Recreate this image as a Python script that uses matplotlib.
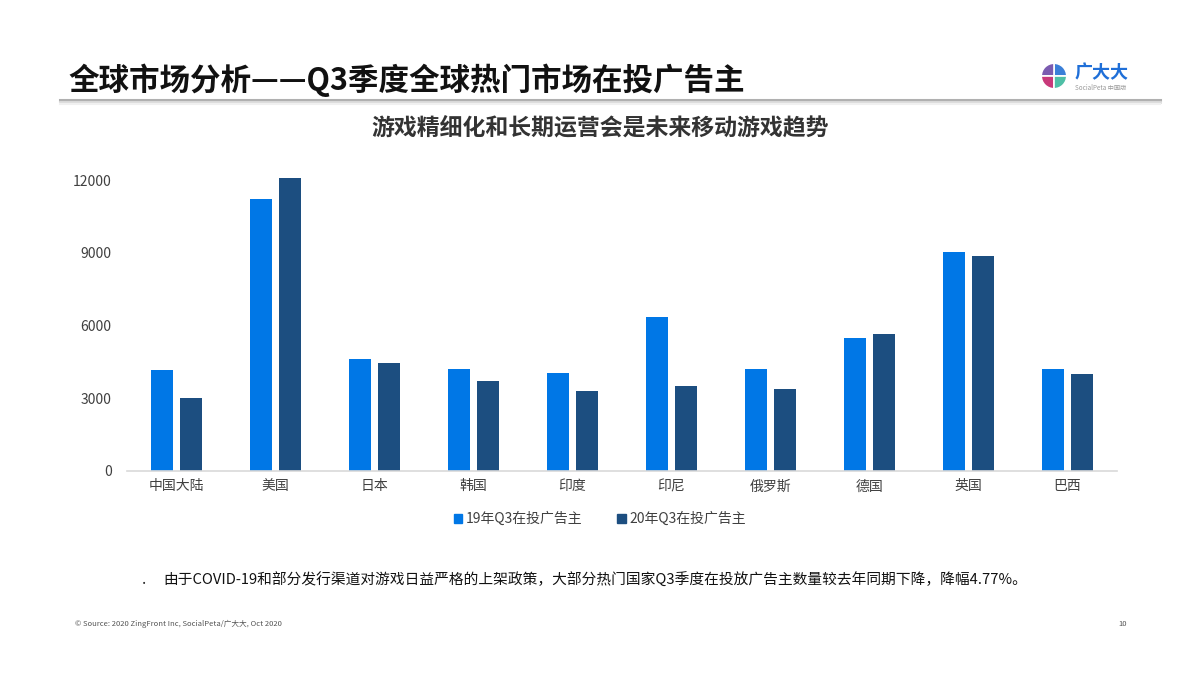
import matplotlib
matplotlib.use("Agg")
import matplotlib.pyplot as plt
from matplotlib.lines import Line2D
from matplotlib.patches import Patch
import numpy as np

plt.rcParams["font.family"] = ["Noto Sans CJK SC", "DejaVu Sans"]

# 数据
categories = ["中国大陆", "美国", "日本", "韩国", "印度", "印尼", "俄罗斯", "德国", "英国", "巴西"]
q3_2019 = [4150, 11200, 4600, 4200, 4050, 6350, 4200, 5500, 9050, 4200]
q3_2020 = [3000, 12100, 4450, 3700, 3300, 3500, 3400, 5650, 8850, 4000]
series_names = ["19年Q3在投广告主", "20年Q3在投广告主"]
yticks = [0, 3000, 6000, 9000, 12000]

c19 = "#0077E6"
c20 = "#1C4E80"

W, H = 1200, 675
fig = plt.figure(figsize=(12, 6.75), dpi=100)
fig.patch.set_facecolor("white")

def fx(px): return px / W
def fy(py): return 1 - py / H

# 标题
fig.text(fx(68), fy(80), "全球市场分析——Q3季度全球热门市场在投广告主",
         fontsize=22, fontweight="bold", color="#111111", va="center", ha="left")
# 标题下灰线
for off, col, lw in [(0, "#b0b0b0", 2.2), (2, "#dddddd", 2.0), (4, "#f0f0f0", 1.5)]:
    fig.add_artist(Line2D([fx(60), fx(1160)], [fy(100 + off), fy(100 + off)],
                          color=col, lw=lw, transform=fig.transFigure))

# logo
lax = fig.add_axes([fx(1038), fy(92), fx(32), 32 / H])
lax.pie([1, 1, 1, 1], colors=["#3a7fd8", "#7b5bb0", "#c8397a", "#4ebfa6"],
        startangle=0, counterclock=True,
        wedgeprops=dict(edgecolor="white", linewidth=1.2))
lax.set_aspect("equal")
fig.text(fx(1075), fy(73), "广大大", fontsize=13, fontweight="bold", color="#1f6fd8",
         va="center", ha="left")
fig.text(fx(1075), fy(88), "SocialPeta 中国版", fontsize=4.5, color="#999999",
         va="center", ha="left")

# 副标题
fig.text(fx(600), fy(128), "游戏精细化和长期运营会是未来移动游戏趋势",
         fontsize=16.5, fontweight="bold", color="#333333", va="center", ha="center")

# 柱状图
ymax = 12600
ax = fig.add_axes([fx(127), fy(471), fx(990), ymax * 0.02425 / H])
x = np.arange(len(categories))
bw = 0.22
ax.bar(x - 0.145, q3_2019, width=bw, color=c19, label=series_names[0])
ax.bar(x + 0.145, q3_2020, width=bw, color=c20, label=series_names[1])
ax.set_xlim(-0.5, len(categories) - 0.5)
ax.set_ylim(0, ymax)
ax.set_yticks(yticks)
ax.set_yticklabels([str(v) for v in yticks], fontsize=10, color="#404040")
ax.set_xticks(x)
ax.set_xticklabels(categories, fontsize=10, color="#404040")
ax.tick_params(axis="both", length=0)
ax.tick_params(axis="y", pad=11)
ax.tick_params(axis="x", pad=6)
for s in ["top", "right", "left"]:
    ax.spines[s].set_visible(False)
ax.spines["bottom"].set_color("#d9d9d9")
ax.spines["bottom"].set_linewidth(1.2)

# 图例
handles = [Patch(color=c19), Patch(color=c20)]
fig.legend(handles, series_names, loc="center", bbox_to_anchor=(fx(600), fy(519)),
           ncol=2, frameon=False, fontsize=10, handlelength=0.6, handleheight=0.6,
           handletextpad=0.3, columnspacing=2.5, labelcolor="#404040")

# 说明文字
fig.text(fx(142), fy(580), ".", fontsize=11, color="#222222", va="center", ha="left")
fig.text(fx(163), fy(580),
         "由于COVID-19和部分发行渠道对游戏日益严格的上架政策，大部分热门国家Q3季度在投放广告主数量较去年同期下降，降幅4.77%。",
         fontsize=10.6, color="#111111", va="center", ha="left")

# 页脚
fig.text(fx(75), fy(624), "© Source: 2020 ZingFront Inc, SocialPeta/广大大, Oct 2020",
         fontsize=5.5, color="#555555", va="center", ha="left")
fig.text(fx(1127), fy(624), "10", fontsize=5.5, color="#555555", va="center", ha="right")

fig.savefig("out.png", dpi=100, facecolor="white")
